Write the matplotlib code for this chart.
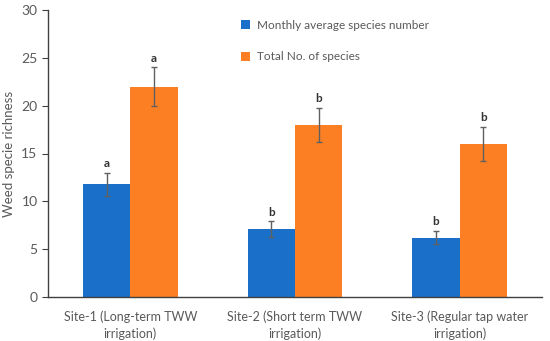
import matplotlib
matplotlib.use("Agg")
import matplotlib.pyplot as plt
import numpy as np

plt.rcParams['font.family'] = ['Lato', 'DejaVu Sans']

sites = ["Site-1 (Long-term TWW\nirrigation)", "Site-2 (Short term TWW\nirrigation)",
         "Site-3 (Regular tap water\nirrigation)"]
monthly = [11.8, 7.1, 6.2]
monthly_err = [1.2, 0.8, 0.7]
total = [22.0, 18.0, 16.0]
total_err = [2.0, 1.8, 1.8]
monthly_letters = ["a", "b", "b"]
total_letters = ["a", "b", "b"]
series_names = ["Monthly average species number", "Total No. of species"]

blue = "#1a70c8"
orange = "#fd7f23"
grey = "#595959"

fig = plt.figure(figsize=(5.5, 3.41), dpi=100)
ax = fig.add_axes([48/550, 1-297/341, 494/550, 287/341])

x = np.arange(len(sites))
w = 0.288
b1 = ax.bar(x - w/2, monthly, w, color=blue, label=series_names[0], zorder=2)
b2 = ax.bar(x + w/2, total, w, color=orange, label=series_names[1], zorder=2)
ax.errorbar(x - w/2, monthly, yerr=monthly_err, fmt='none', ecolor='#606060',
            elinewidth=1, capsize=2.5, capthick=1, zorder=3)
ax.errorbar(x + w/2, total, yerr=total_err, fmt='none', ecolor='#606060',
            elinewidth=1, capsize=2.5, capthick=1, zorder=3)
for xi, v, e, l in zip(x - w/2, monthly, monthly_err, monthly_letters):
    ax.text(xi, v + e + 0.4, l, ha='center', va='bottom', fontsize=8.5,
            fontweight='bold', color='#333333')
for xi, v, e, l in zip(x + w/2, total, total_err, total_letters):
    ax.text(xi, v + e + 0.4, l, ha='center', va='bottom', fontsize=8.5,
            fontweight='bold', color='#333333')

ax.set_xlim(-0.5, 2.5)
ax.set_ylim(0, 30)
ax.set_yticks([0, 5, 10, 15, 20, 25, 30])
ax.set_xticks(x)
ax.set_xticklabels(sites, linespacing=1.35)
ax.tick_params(axis='x', length=0, pad=10, labelsize=9, colors=grey)
ax.tick_params(axis='y', length=4, direction='out', labelsize=10, colors=grey)
ax.tick_params(axis='both', color='#404040')
for s in ['top', 'right']:
    ax.spines[s].set_visible(False)
for s in ['left', 'bottom']:
    ax.spines[s].set_color('#404040')
    ax.spines[s].set_linewidth(1)
ax.set_ylabel("Weed specie richness", fontsize=9.5, color=grey)
ax.yaxis.set_label_coords(-0.066, 0.5)

leg = fig.legend(handles=[b1, b2], loc='upper left', bbox_to_anchor=(230/550, 1-9/341),
                 frameon=False, fontsize=8.5, handlelength=0.8, handleheight=0.8,
                 labelspacing=1.75, handletextpad=0.6)
for t in leg.get_texts():
    t.set_color(grey)

fig.savefig("out.png", dpi=100)
